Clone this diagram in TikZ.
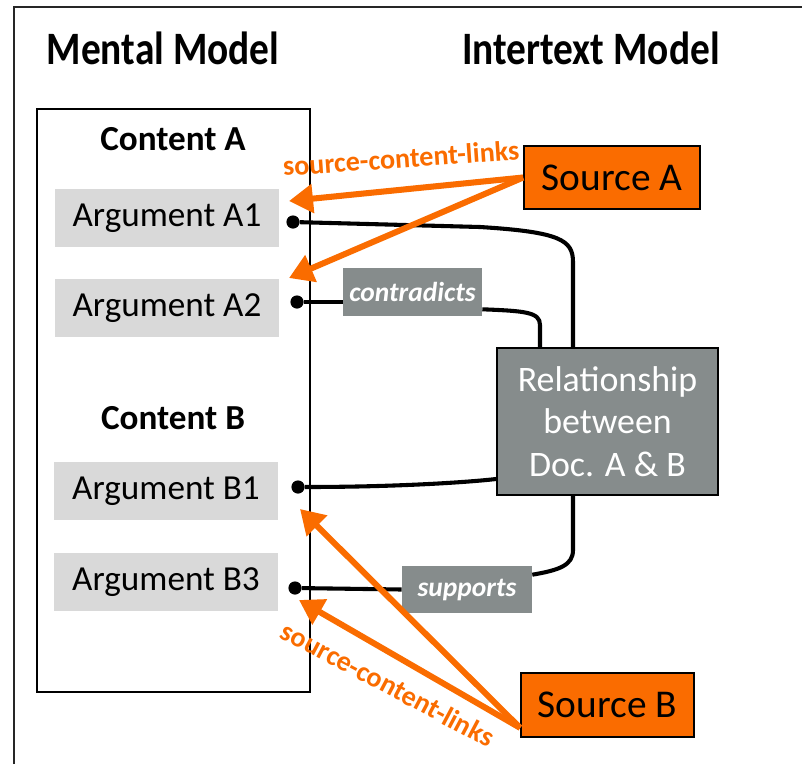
\documentclass[tikz,border=0pt]{standalone}
\usepackage{graphicx}
\usepackage{fontspec}
\setmainfont{Carlito}
\usetikzlibrary{arrows.meta}
\definecolor{srcorange}{RGB}{250,108,0}
\definecolor{relgray}{RGB}{134,140,140}
\definecolor{arggray}{RGB}{217,217,217}
\tikzset{
  heading/.style={font=\fontsize{28}{34}\selectfont\bfseries},
  content/.style={font=\fontsize{25}{30}\selectfont\bfseries},
  arg/.style={fill=arggray,minimum width=5.6cm,minimum height=1.47cm,inner sep=0pt,font=\fontsize{25}{30}\selectfont},
  dot/.style={circle,fill=black,minimum size=0.33cm,inner sep=0pt},
  rellabel/.style={fill=relgray,text=white,inner sep=0pt,font=\fontsize{19.5}{23}\selectfont\bfseries\itshape},
  source/.style={draw=black,line width=1.2pt,fill=srcorange,inner sep=0pt,font=\fontsize{28}{34}\selectfont},
  link/.style={line width=2.9pt},
  sclink/.style={srcorange,line width=4.3pt,-{Triangle[length=0.6cm,width=0.7cm]}},
  sclabel/.style={text=srcorange,font=\fontsize{20}{24}\selectfont\bfseries}
}
\begin{document}
\begin{tikzpicture}[x=0.025cm,y=-0.025cm]
\useasboundingbox (0,0) rectangle (802,764);
\draw[line width=1.4pt,black!85](14,764)--(14,7)--(802,7);
\node[heading] (mental) at (163,48) {\scalebox{1}[1.18]{Mental Model}};
\node[heading] (intertext) at (591,48) {\scalebox{1}[1.18]{Intertext Model}};
\draw[line width=1.4pt](37,109) rectangle (310,692);
\node[content] (ca) at (173,139) {Content A};
\node[content] (cb) at (173,418) {Content B};
\foreach \n/\t/\x/\y in {a1/A1/167/218,a2/A2/167/308,b1/B1/166/491,b3/B3/166/582}{\node[arg] (\n) at (\x,\y) {Argument \t};}
\foreach \n/\x/\y in {d1/293/222,d2/297/302,d3/298/487,d4/295/588}{\node[dot] (\n) at (\x,\y) {};}
\node[draw=black,line width=1.4pt,fill=relgray,text=white,minimum width=5.525cm,minimum height=3.675cm,inner sep=0pt,align=center,font=\fontsize{25.5}{30}\selectfont] (rel) at (607.5,421.5) {Relationship\\between\\Doc. A \& B};
\node[rellabel,minimum width=3.475cm,minimum height=1.2cm] (con) at (412.5,292) {contradicts};
\node[rellabel,minimum width=3.25cm,minimum height=1.175cm] (sup) at (467,589.5) {supports};
\node[source,minimum width=4.4cm,minimum height=1.575cm] (srcA) at (612,177.5) {Source A};
\node[source,minimum width=4.325cm,minimum height=1.6cm] (srcB) at (607.5,705) {Source B};
\coordinate (vr) at (573,0);
\coordinate (vl) at (540,0);
% relationship links
\draw[link](d1)--(480,227)..controls(560,232)and(573,240)..(573,262)--(vr|-rel.north);
\draw[link](d2)--(d2-|con.west);
\draw[link]([yshift=0.175cm]con.south east)..controls(525,311)and(540,312)..(540,325)--(vl|-rel.north);
\draw[link](d3)..controls(400,487)and(470,482)..([yshift=0.425cm]rel.south west);
\draw[link](d4)--(sup.west);
\draw[link]([yshift=-0.225cm]sup.north east)..controls(560,570)and(573,565)..(573,550)--(vr|-rel.south);
% source-content-links
\coordinate (ta1) at (289,201);
\coordinate (ta2) at (289,278);
\coordinate (tb1) at (300,509);
\coordinate (tb3) at (299,600);
\foreach \t in {ta1,ta2}{\draw[sclink](srcA.west)--(\t);}
\foreach \t in {tb1,tb3}{\draw[sclink]([yshift=0.25cm]srcB.south west)--(\t);}
\node[sclabel,rotate=4] (sla) at (401,158) {source-content-links};
\node[sclabel,rotate=-28] (slb) at (388,684) {source-content-links};
\end{tikzpicture}
\end{document}
